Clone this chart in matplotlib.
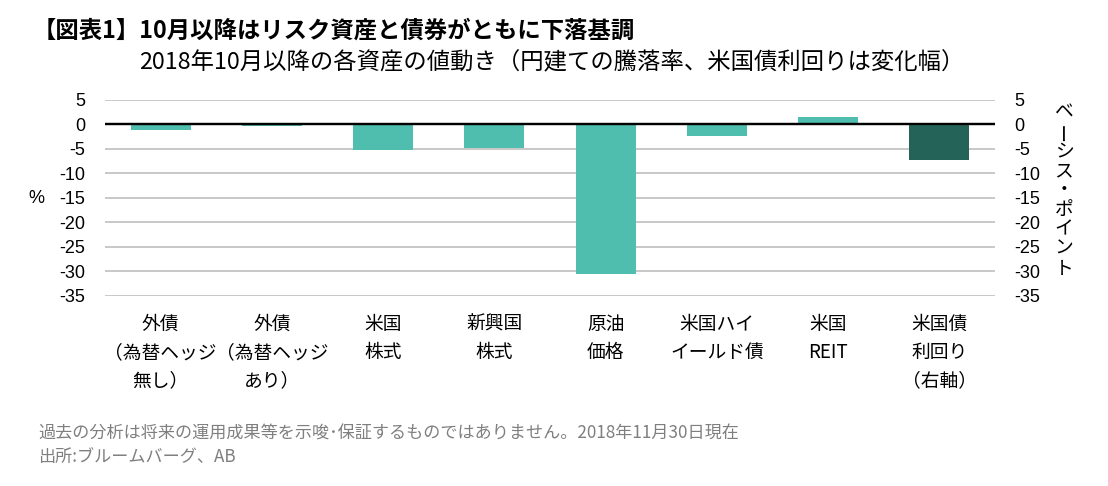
import matplotlib
matplotlib.use("Agg")
import matplotlib.pyplot as plt

plt.rcParams['font.family'] = ['Liberation Sans', 'Noto Sans CJK JP', 'DejaVu Sans']
plt.rcParams['axes.unicode_minus'] = False

categories = ["外債\n（為替ヘッジ\n無し）", "外債\n（為替ヘッジ\nあり）", "米国\n株式", "新興国\n株式",
              "原油\n価格", "米国ハイ\nイールド債", "米国\nREIT", "米国債\n利回り\n（右軸）"]
left_values = [-1.1, -0.3, -5.2, -4.8, -30.5, -2.4, 1.4]
right_values = [-7.3]
yticks = [5, 0, -5, -10, -15, -20, -25, -30, -35]

title = "【図表1】10月以降はリスク資産と債券がともに下落基調"
subtitle = "2018年10月以降の各資産の値動き（円建ての騰落率、米国債利回りは変化幅）"
footer1 = "過去の分析は将来の運用成果等を示唆･保証するものではありません。2018年11月30日現在"
footer2 = "出所:ブルームバーグ、AB"
left_label = "%"
right_label = "ベーシス・ポイント"

light = "#50BEAE"
dark = "#246358"

fig = plt.figure(figsize=(11.08, 4.86), dpi=100)
ax = fig.add_axes([105/1108, 1-295.7/486, (995-105)/1108, (295.7-99.7)/486])
ax2 = ax.twinx()

n = len(categories)
x = list(range(n))
w = 0.54
ax.bar(x[:len(left_values)], left_values, width=w, color=light, zorder=3)
ax2.bar(x[len(left_values):], right_values, width=w, color=dark, zorder=3)

for a in (ax, ax2):
    a.set_ylim(-35, 5)
    a.set_yticks(yticks)
    a.set_yticklabels([str(t) for t in yticks])
    for s in a.spines.values():
        s.set_visible(False)
    a.tick_params(length=0, labelsize=13, pad=14)
ax.set_xlim(-0.5, n - 0.5)
ax.yaxis.grid(True, color="#BFBFBF", linewidth=1.2, zorder=0)
ax.set_axisbelow(True)
ax.axhline(0, color="black", linewidth=1.6, zorder=4)
ax2.axhline(0, color="black", linewidth=1.6, zorder=4)

ax.set_xticks(x)
ax.set_xticklabels(categories, fontsize=13.5, linespacing=1.45, family=['Noto Sans CJK JP'],
                   verticalalignment='top')
ax.tick_params(axis='x', pad=13)

fig.text(36/1108, 1-198/486, left_label, fontsize=13, ha='center', va='center')

# vertical Japanese axis label on the right
y0 = 112
step = 19.5
for i, ch in enumerate(right_label):
    rot = 90 if ch == "ー" else 0
    fig.text(1064/1108, 1-(y0 + step*i)/486, ch, fontsize=13.5, ha='center', va='center',
             rotation=rot, family=['Noto Sans CJK JP'])

fig.text(33/1108, 1-31/486, title, fontsize=16.8, fontweight='bold', ha='left', va='center',
         family=['Noto Sans CJK JP'])
fig.text(139/1108, 1-63/486, subtitle, fontsize=16.8, ha='left', va='center',
         family=['Noto Sans CJK JP'])
fig.text(38/1108, 1-434/486, footer1, fontsize=12.3, color="#7F7F7F", ha='left', va='center',
         family=['Noto Sans CJK JP'])
fig.text(38/1108, 1-457/486, footer2, fontsize=12.3, color="#7F7F7F", ha='left', va='center',
         family=['Noto Sans CJK JP'])

fig.savefig("out.png", dpi=100)
